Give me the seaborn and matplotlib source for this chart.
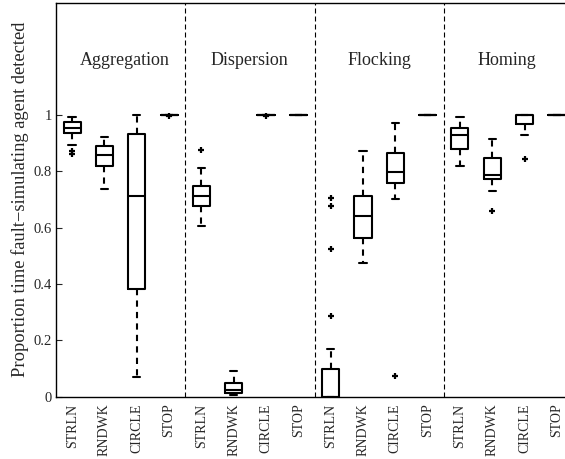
import matplotlib
matplotlib.use("Agg")
import matplotlib.pyplot as plt
import pandas as pd
import seaborn as sns

behaviours = ["Aggregation", "Dispersion", "Flocking", "Homing"]
controllers = ["STRLN", "RNDWK", "CIRCLE", "STOP"]

# Five-number summaries per controller:
# lower whisker, Q1, median, Q3, upper whisker
aggregation = [
    [0.893, 0.937, 0.956, 0.975, 0.995],
    [0.736, 0.820, 0.860, 0.889, 0.921],
    [0.071, 0.383, 0.713, 0.933, 1.000],
    [1.000, 1.000, 1.000, 1.000, 1.000],
]
dispersion = [
    [0.605, 0.679, 0.713, 0.750, 0.811],
    [0.004, 0.012, 0.024, 0.047, 0.090],
    [1.000, 1.000, 1.000, 1.000, 1.000],
    [1.000, 1.000, 1.000, 1.000, 1.000],
]
flocking = [
    [0.000, 0.000, 0.000, 0.098, 0.168],
    [0.476, 0.565, 0.641, 0.714, 0.873],
    [0.701, 0.759, 0.797, 0.867, 0.973],
    [1.000, 1.000, 1.000, 1.000, 1.000],
]
homing = [
    [0.820, 0.881, 0.928, 0.956, 0.994],
    [0.731, 0.773, 0.789, 0.849, 0.917],
    [0.929, 0.967, 1.000, 1.000, 1.000],
    [1.000, 1.000, 1.000, 1.000, 1.000],
]

# Outlying runs per controller
aggregation_out = [[0.873, 0.862], [], [], [0.997]]
dispersion_out = [[0.875], [], [0.997], []]
flocking_out = [[0.706, 0.676, 0.523, 0.286], [], [0.074], []]
homing_out = [[], [0.658], [0.845], []]

# x position of each behaviour heading
heading_x = [1.63, 5.49, 9.51, 13.45]

summaries = [aggregation, dispersion, flocking, homing]
outliers = [aggregation_out, dispersion_out, flocking_out, homing_out]

order, box_rows, out_rows = [], [], []
for beh, summ, outs in zip(behaviours, summaries, outliers):
    for ctrl, vals, ov in zip(controllers, summ, outs):
        slot = f"{beh}-{ctrl}"
        order.append(slot)
        box_rows += [(slot, v) for v in vals]
        out_rows += [(slot, v) for v in ov]
box_df = pd.DataFrame(box_rows, columns=["slot", "value"])
out_df = pd.DataFrame(out_rows, columns=["slot", "value"])

sns.set_style("white")
plt.rcParams["font.family"] = ["Liberation Serif", "DejaVu Serif"]

fig = plt.figure(figsize=(5.65, 4.59), dpi=100)
ax = fig.add_axes([56 / 565, 1 - 396.5 / 459, 517 / 565, (396.5 - 2.7) / 459])

sns.boxplot(
    data=box_df, x="slot", y="value", order=order, whis=(0, 100),
    showfliers=False, width=0.53, fill=False, color="black", linewidth=1.5,
    whiskerprops=dict(linestyle=(0, (3, 2.5))), capwidths=0.23, ax=ax,
)
sns.stripplot(
    data=out_df, x="slot", y="value", order=order, jitter=False,
    color="black", marker="+", size=5, linewidth=1.6, ax=ax,
)

for b in (3.5, 7.5, 11.5):
    ax.axvline(b, color="black", lw=0.8, ls=(0, (4.5, 2.7)))

for name, hx in zip(behaviours, heading_x):
    ax.text(hx, 1.178, name, ha="center", va="baseline", fontsize=13)

ax.set_xlim(-0.5, 15.5)
ax.set_ylim(0, 1.4)
ax.set_yticks([0, 0.2, 0.4, 0.6, 0.8, 1.0])
ax.set_yticklabels(["0", "0.2", "0.4", "0.6", "0.8", "1"])
ax.set_xticks(range(len(order)))
ax.set_xticklabels(controllers * len(behaviours), rotation=90)
ax.tick_params(axis="x", length=0, pad=5, labelsize=10)
ax.tick_params(axis="y", direction="in", length=4, width=0.8, labelsize=10.5,
               pad=3, left=True)
ax.set_xlabel("")
ax.set_ylabel("Proportion time fault\u2212simulating agent detected",
              fontsize=13.3, labelpad=3)
for sp in ax.spines.values():
    sp.set_color("black")
    sp.set_linewidth(1.0)

fig.savefig("out.png", dpi=100)
